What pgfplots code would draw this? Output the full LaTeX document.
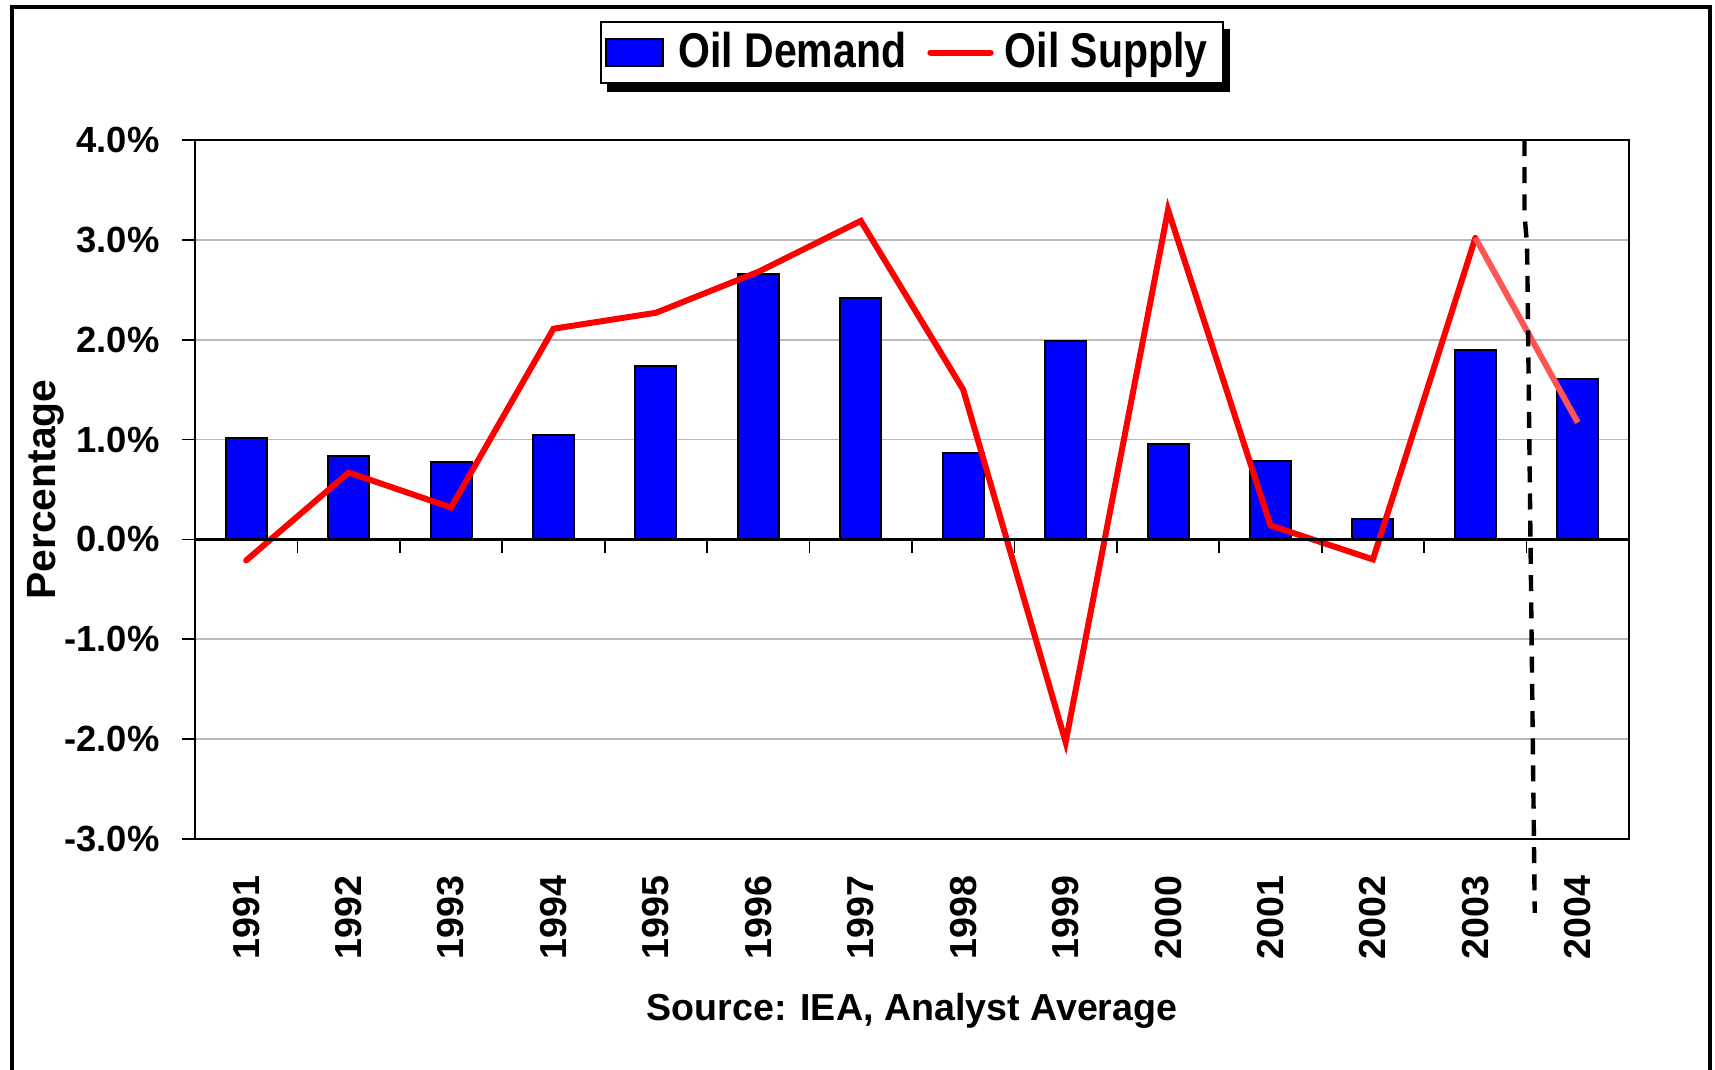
\documentclass[border=0pt]{standalone}
\usepackage{pgfplots}
\pgfplotsset{compat=1.18}
\usepackage{fontspec}
\setmainfont{Liberation Sans}
\newfontfamily\legfont{Liberation Sans}[FakeStretch=0.84]
\usetikzlibrary{backgrounds}
\definecolor{barblue}{RGB}{0,0,255}
\definecolor{supred}{RGB}{255,0,0}
\definecolor{lightred}{RGB}{255,85,85}
\begin{document}
\begin{tikzpicture}
\useasboundingbox (0,0) rectangle (428.75pt,267.5pt);
\draw[line width=1pt] (3pt,-5pt) -- (3pt,265.75pt) -- (427.5pt,265.75pt) -- (427.5pt,-5pt);
\begin{axis}[
  at={(48.75pt,57.75pt)}, anchor=south west,
  scale only axis, width=358.5pt, height=174.75pt,
  xmin=-0.5, xmax=13.5, ymin=-3, ymax=4,
  clip=false,
  axis line style={line width=0.5pt},
  ytick={-3,-2,-1,0,1,2,3,4},
  ytick pos=left,
  yticklabel={\pgfmathprintnumber[fixed,fixed zerofill,precision=1]{\tick}\%},
  /pgf/number format/assume math mode=true,
  tick align=outside,
  ytick style={black, line width=0.4pt},
  major tick length=3.3pt,
  y tick label style={font=\fontsize{9.1}{11}\selectfont\bfseries, inner xsep=0pt, xshift=-5.4pt},
  xtick={0,1,2,3,4,5,6,7,8,9,10,11,12,13},
  xticklabels={1991,1992,1993,1994,1995,1996,1997,1998,1999,2000,2001,2002,2003,2004},
  xtick style={draw=none},
  x tick label style={font=\fontsize{9.4}{11}\selectfont\bfseries, inner sep=0pt, yshift=-5.6pt, rotate=90, anchor=east},
  ymajorgrids, major grid style={gray!55, line width=0.4pt},
  xlabel={Source: IEA, Analyst Average},
  every axis x label/.style={at={(axis description cs:0.5,0)}, anchor=base, yshift=-45.5pt, font=\fontsize{9.4}{11}\selectfont\bfseries},
  ylabel={Percentage},
  every axis y label/.style={at={(axis description cs:-0.097,0.5)}, rotate=90, anchor=base, font=\fontsize{10.2}{12}\selectfont\bfseries},
  legend columns=2,
  legend style={at={(axis description cs:0.5,1)}, anchor=south, yshift=14pt,
    name=leg,
    draw=black, fill=white, inner xsep=1pt, inner ysep=1pt,
    font=\legfont\bfseries\fontsize{12.2}{14}\selectfont,
    nodes={inner ysep=1.5pt, inner xsep=2.8pt},
    /tikz/every even column/.append style={column sep=2.5pt}},
]
\addplot[ybar, bar width=0.4, fill=barblue, draw=black, line width=0.5pt,
  legend image code/.code={\draw[fill=barblue, draw=black, line width=0.5pt] (2.3pt,-3.45pt) rectangle (16.5pt,3.45pt); \path (17.3pt,0pt);}]
  coordinates {(0,1.02) (1,0.84) (2,0.78) (3,1.05) (4,1.74) (5,2.66) (6,2.42) (7,0.87) (8,1.99) (9,0.96) (10,0.79) (11,0.20) (12,1.90) (13,1.61)};
\addlegendentry{Oil Demand}
\addplot[supred, line width=1.5pt, line cap=round, line join=miter,
  legend image code/.code={\draw[supred, line width=1.5pt, line cap=round] (0.8pt,0pt) -- (15.9pt,0pt);}]
  coordinates {(0,-0.21) (1,0.67) (2,0.32) (3,2.11) (4,2.27) (5,2.68) (6,3.19) (7,1.50) (8,-2.03) (9,3.30) (10,0.14) (11,-0.20) (12,3.02)};
\addlegendentry{Oil Supply}
\addplot[lightred, line width=1.5pt, forget plot] coordinates {(12,3.02) (13,1.17)};
\draw[line width=0.8pt] (axis cs:-0.5,0) -- (axis cs:13.5,0);
\pgfplotsinvokeforeach{0.5,1.5,2.5,3.5,4.5,5.5,6.5,7.5,8.5,9.5,10.5,11.5,12.5}{
  \draw[line width=0.4pt] (axis cs:#1,0) -- ++(0pt,-3.5pt);
}
\draw[line width=1.1pt, dash pattern=on 4pt off 2.8pt] (axis cs:12.48,4) -- (axis cs:12.48,3.25) -- (axis cs:12.505,2.95) -- (axis cs:12.58,-3.74);
\end{axis}
\begin{scope}[on background layer]
\fill[black] ([shift={(1.6pt,-2pt)}]leg.south west) rectangle ([shift={(1.6pt,-2pt)}]leg.north east);
\end{scope}
\end{tikzpicture}
\end{document}
